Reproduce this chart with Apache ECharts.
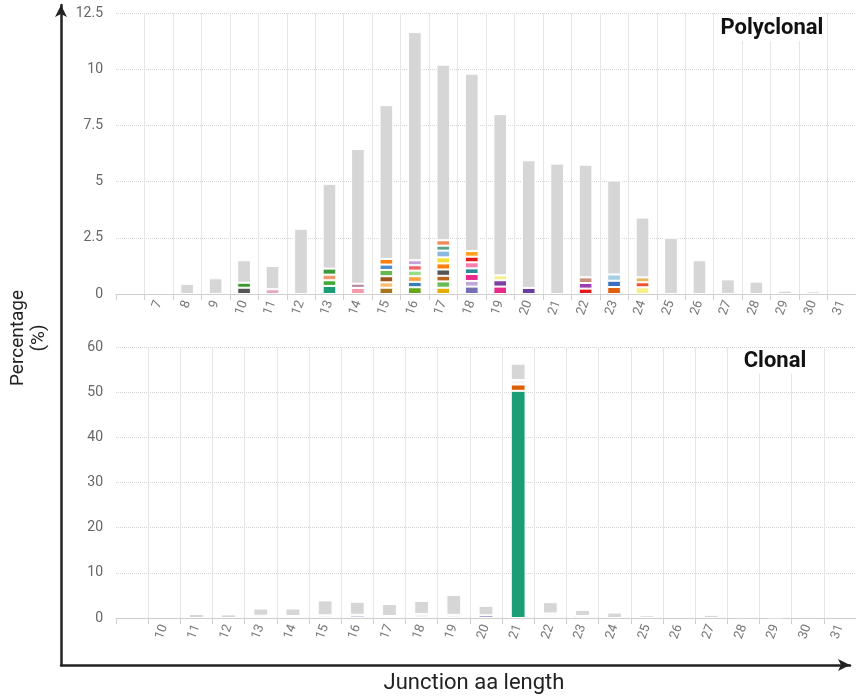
<!DOCTYPE html>
<html><head><meta charset="utf-8">
<script src="https://cdn.jsdelivr.net/npm/echarts@6/dist/echarts.min.js"></script>
<style>html,body{margin:0;padding:0;background:#fff}#c{width:856px;height:696px}</style>
</head><body><div id="c"></div>
<script>
// ---------- Polyclonal (top) ----------
const polyCategories = ['', '7','8','9','10','11','12','13','14','15','16','17','18','19','20','21','22','23','24','25','26','27','28','29','30','31'];
const polyTotals = [0, 0, 0.45, 0.7, 1.5, 1.25, 2.9, 4.9, 6.45, 8.4, 11.65, 10.2, 9.8, 8.0, 5.95, 5.8, 5.75, 5.05, 3.4, 2.5, 1.5, 0.65, 0.55, 0.15, 0.12, 0];
// coloured clone segments, bottom to top, for each category
const polySegments = [
  [], [], [], [],
  [0.28, 0.22],                                            // 10
  [0.21],                                                  // 11
  [],                                                      // 12
  [0.36, 0.25, 0.25, 0.27],                                // 13
  [0.27, 0.19],                                            // 14
  [0.28, 0.24, 0.27, 0.28, 0.24, 0.25],                    // 15
  [0.30, 0.24, 0.25, 0.25, 0.24, 0.22],                    // 16
  [0.28, 0.28, 0.25, 0.28, 0.27, 0.27, 0.30, 0.22, 0.24],  // 17
  [0.33, 0.25, 0.31, 0.25, 0.27, 0.25, 0.25],              // 18
  [0.33, 0.28, 0.22],                                      // 19
  [0.27],                                                  // 20
  [],                                                      // 21
  [0.24, 0.25, 0.25],                                      // 22
  [0.31, 0.28, 0.28],                                      // 23
  [0.30, 0.22, 0.22],                                      // 24
  [], [], [], [], [], [], []                               // 25-31
];
const polySegColors = [
  [], [], [], [],
  ['#555555', '#3a9a2a'],
  ['#e8a6bb'],
  [],
  ['#1b9e77', '#41a83a', '#f09a70', '#3a9a3a'],
  ['#f59aa8', '#b88aa0'],
  ['#a6761d', '#fdbf6f', '#a0521d', '#66b94e', '#4a90d0', '#ff7f0e'],
  ['#66a61e', '#377eb8', '#ff9f40', '#98dc88', '#f06464', '#c3a2d8'],
  ['#e6ab02', '#66bb55', '#b8651b', '#555555', '#ff7f0e', '#f3df3b', '#8ab8e0', '#5aa38a', '#f08a5a'],
  ['#7570b3', '#c0a8d8', '#e7298a', '#2a8a9a', '#f580b0', '#e31a1c', '#ff9f20'],
  ['#e7298a', '#7b3fa0', '#f7f08a'],
  ['#6a3d9a'],
  [],
  ['#e31a1c', '#9b3fb0', '#c8907a'],
  ['#e06010', '#3a70c0', '#a6cee3'],
  ['#f7f08a', '#f05030', '#e8b860'],
  [], [], [], [], [], [], []
];

// ---------- Clonal (bottom) ----------
const clonalCategories = ['', '10','11','12','13','14','15','16','17','18','19','20','21','22','23','24','25','26','27','28','29','30','31'];
const clonalTotals = [0, 0, 0.9, 0.8, 2.1, 2.1, 3.9, 3.6, 3.1, 3.8, 5.1, 2.7, 56.3, 3.5, 1.8, 1.2, 0.6, 0.3, 0.7, 0.2, 0.15, 0.45, 0];
const clonalSegments = [
  [], [], [], [],
  [0.5], [0.45], [0.6], [0.7], [0.45], [0.9], [0.7], [0.6],
  [50.3, 1.4, 1.0],
  [0.35, 0.65], [0.45],
  [], [], [], [], [], [], [], []
];
const clonalSegColors = [
  [], [], [], [],
  ['#f4f4f4'], ['#f4f4f4'], ['#f4f4f4'], ['#d8d0e8'], ['#f4f4f4'], ['#f4f4f4'], ['#f4f4f4'], ['#8a80c8'],
  ['#1b9e77', '#d95f02', '#f4f4f4'],
  ['#1b9e77', '#f4f4f4'], ['#e7298a'],
  [], [], [], [], [], [], [], []
];

const polyTicks = { min: 0, max: 12.5, interval: 2.5 };
const clonalTicks = { min: 0, max: 60, interval: 10 };

const GRAY = '#d6d6d6';
const FONT = 'Roboto';

function buildSeries(gi, cats, totals, segs, cols, barW) {
  const maxL = Math.max(...segs.map(s => s.length));
  const out = [];
  for (let k = 0; k < maxL; k++) {
    out.push({
      type: 'bar', xAxisIndex: gi, yAxisIndex: gi, stack: 's' + gi, barWidth: barW,
      itemStyle: { borderColor: '#fff', borderWidth: 1 },
      data: cats.map((_, i) => segs[i][k] != null ? { value: segs[i][k], itemStyle: { color: cols[i][k] } } : '-')
    });
  }
  out.push({
    type: 'bar', xAxisIndex: gi, yAxisIndex: gi, stack: 's' + gi, barWidth: barW,
    itemStyle: { color: GRAY, borderColor: '#fff', borderWidth: 1 },
    data: cats.map((_, i) => {
      const rest = totals[i] - segs[i].reduce((a, b) => a + b, 0);
      return rest > 0 ? +rest.toFixed(3) : '-';
    })
  });
  return out;
}

function catAxis(gi, cats) {
  return {
    type: 'category', gridIndex: gi, data: cats,
    axisLine: { lineStyle: { color: '#cfcfcf', width: 1 } },
    axisTick: { show: true, length: 6, lineStyle: { color: '#cfcfcf' } },
    axisLabel: { interval: 0, rotate: 70, color: '#777', fontSize: 13, fontFamily: FONT, margin: 7 },
    splitLine: { show: true, interval: (i) => i > 0, lineStyle: { color: '#e6e6e6', width: 1 } }
  };
}
function valAxis(gi, t) {
  return {
    type: 'value', gridIndex: gi, min: t.min, max: t.max, interval: t.interval,
    axisLine: { show: false }, axisTick: { show: false },
    axisLabel: { color: '#666', fontSize: 14, fontFamily: FONT, margin: 13 },
    splitLine: { show: true, lineStyle: { color: '#d4d4d4', type: 'dotted', width: 1 } }
  };
}

const chart = echarts.init(document.getElementById('c'), null, { renderer: 'canvas' });
chart.setOption({
  animation: false,
  backgroundColor: '#fff',
  grid: [
    { left: 116, top: 13, width: 747, height: 281 },
    { left: 116, top: 347, width: 747, height: 271 },
    { left: 61, top: 5, width: 789, height: 660 }
  ],
  xAxis: [
    catAxis(0, polyCategories),
    catAxis(1, clonalCategories),
    { type: 'value', gridIndex: 2, min: 0, max: 1,
      axisLine: { show: true, symbol: ['none', 'arrow'], symbolSize: [9, 12], lineStyle: { color: '#222', width: 2.5 } },
      axisTick: { show: false }, axisLabel: { show: false }, splitLine: { show: false } }
  ],
  yAxis: [
    valAxis(0, polyTicks),
    valAxis(1, clonalTicks),
    { type: 'value', gridIndex: 2, min: 0, max: 1,
      axisLine: { show: true, symbol: ['none', 'arrow'], symbolSize: [9, 12], lineStyle: { color: '#222', width: 2.5 } },
      axisTick: { show: false }, axisLabel: { show: false }, splitLine: { show: false } }
  ],
  series: [
    ...buildSeries(0, polyCategories, polyTotals, polySegments, polySegColors, '48%'),
    ...buildSeries(1, clonalCategories, clonalTotals, clonalSegments, clonalSegColors, '46%')
  ],
  graphic: [
    { type: 'text', x: 772, y: 28, z: 100, style: { text: 'Polyclonal', font: 'bold 22px Roboto', fill: '#111', align: 'center', verticalAlign: 'middle', backgroundColor: '#fff', padding: [2, 3] } },
    { type: 'text', x: 775, y: 361, z: 100, style: { text: 'Clonal', font: 'bold 22px Roboto', fill: '#111', align: 'center', verticalAlign: 'middle', backgroundColor: '#fff', padding: [2, 3] } },
    { type: 'text', x: 474, y: 683, style: { text: 'Junction aa length', font: '22px Roboto', fill: '#222', align: 'center', verticalAlign: 'middle' } },
    { type: 'text', x: 29, y: 338, rotation: Math.PI / 2, style: { text: 'Percentage\n(%)', font: '19px Roboto', lineHeight: 21, fill: '#222', align: 'center', verticalAlign: 'middle' } }
  ]
});
</script>
</body></html>
